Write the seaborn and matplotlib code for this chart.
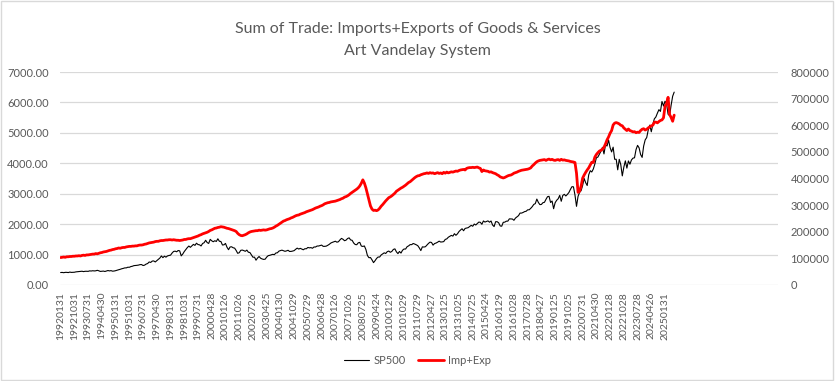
# -*- coding: utf-8 -*-

import matplotlib
matplotlib.use('Agg')
import matplotlib.pyplot as plt
import matplotlib.ticker as mticker
from matplotlib.patches import Rectangle
import seaborn as sns
import numpy as np
import pandas as pd

################################################################################
# data: monthly values from 1992-01 to 2025-07

# S&P 500 month-end close
sp500 = [
    409, 413, 404, 415, 415, 408, 424, 414, 418, 419, 431, 436,          # 1992
    439, 443, 452, 440, 450, 451, 448, 464, 459, 468, 462, 466,          # 1993
    482, 467, 446, 451, 457, 444, 458, 475, 463, 472, 454, 459,          # 1994
    470, 487, 501, 515, 533, 545, 562, 562, 584, 582, 605, 616,          # 1995
    636, 640, 646, 654, 669, 671, 640, 652, 687, 705, 757, 741,          # 1996
    786, 791, 757, 801, 848, 885, 954, 899, 947, 915, 955, 970,          # 1997
    980, 1049, 1102, 1112, 1091, 1134, 1121, 957, 1017, 1099, 1164, 1229,  # 1998
    1280, 1238, 1286, 1335, 1302, 1373, 1329, 1320, 1283, 1363, 1389, 1469,  # 1999
    1394, 1366, 1499, 1452, 1421, 1455, 1431, 1518, 1437, 1429, 1315, 1320,  # 2000
    1366, 1240, 1160, 1249, 1256, 1224, 1211, 1134, 1041, 1060, 1139, 1148,  # 2001
    1130, 1107, 1147, 1077, 1067, 990, 912, 916, 815, 886, 936, 880,     # 2002
    856, 841, 848, 917, 964, 975, 990, 1008, 996, 1051, 1058, 1112,      # 2003
    1131, 1145, 1126, 1107, 1121, 1141, 1102, 1104, 1115, 1130, 1174, 1212,  # 2004
    1181, 1204, 1181, 1157, 1192, 1191, 1234, 1220, 1229, 1207, 1249, 1248,  # 2005
    1280, 1281, 1295, 1311, 1270, 1270, 1277, 1304, 1336, 1378, 1401, 1418,  # 2006
    1438, 1407, 1421, 1482, 1531, 1503, 1455, 1474, 1527, 1549, 1481, 1468,  # 2007
    1379, 1331, 1323, 1386, 1400, 1280, 1267, 1283, 1166, 969, 896, 903,     # 2008
    826, 735, 798, 873, 919, 919, 987, 1021, 1057, 1036, 1096, 1115,     # 2009
    1074, 1104, 1169, 1187, 1089, 1031, 1102, 1049, 1141, 1183, 1181, 1258,  # 2010
    1286, 1327, 1326, 1364, 1345, 1321, 1292, 1219, 1131, 1253, 1247, 1258,  # 2011
    1312, 1366, 1408, 1398, 1310, 1362, 1379, 1407, 1441, 1412, 1416, 1426,  # 2012
    1498, 1515, 1569, 1598, 1631, 1606, 1686, 1633, 1682, 1757, 1806, 1848,  # 2013
    1783, 1859, 1872, 1884, 1924, 1960, 1931, 2003, 1972, 2018, 2068, 2059,  # 2014
    1995, 2105, 2068, 2086, 2107, 2063, 2104, 1972, 1920, 2079, 2080, 2044,  # 2015
    1940, 1932, 2060, 2065, 2097, 2099, 2174, 2171, 2168, 2126, 2199, 2239,  # 2016
    2279, 2364, 2363, 2384, 2412, 2423, 2470, 2472, 2519, 2575, 2648, 2674,  # 2017
    2824, 2714, 2641, 2648, 2705, 2718, 2816, 2902, 2914, 2712, 2760, 2507,  # 2018
    2704, 2784, 2834, 2946, 2752, 2942, 2980, 2926, 2977, 3038, 3141, 3231,  # 2019
    3226, 2954, 2585, 2912, 3044, 3100, 3271, 3500, 3363, 3270, 3622, 3756,  # 2020
    3714, 3811, 3973, 4181, 4204, 4298, 4395, 4523, 4308, 4605, 4567, 4766,  # 2021
    4516, 4374, 4530, 4132, 4132, 3785, 4130, 3955, 3586, 3872, 4080, 3840,  # 2022
    4077, 3970, 4109, 4169, 4180, 4450, 4589, 4508, 4288, 4194, 4568, 4770,  # 2023
    4846, 5096, 5254, 5036, 5278, 5460, 5522, 5648, 5762, 5705, 6032, 5882,  # 2024
    6041, 5955, 5612, 5569, 5912, 6205, 6339,                                # 2025
]

# imports + exports of goods & services (millions)
imp_exp = [
    103000, 104000, 105000, 104000, 106000, 106000, 107000, 107000, 108000, 108000, 109000, 109000,  # 1992
    110000, 109000, 111000, 112000, 111000, 113000, 113000, 114000, 115000, 116000, 116000, 118000,  # 1993
    117000, 119000, 121000, 122000, 124000, 125000, 126000, 128000, 130000, 131000, 133000, 134000,  # 1994
    136000, 137000, 139000, 138000, 140000, 141000, 141000, 143000, 144000, 145000, 145000, 146000,  # 1995
    146000, 147000, 147000, 149000, 150000, 150000, 151000, 153000, 154000, 156000, 158000, 159000,  # 1996
    160000, 161000, 163000, 164000, 164000, 166000, 167000, 167000, 168000, 169000, 169000, 170000,  # 1997
    170000, 169000, 170000, 169000, 168000, 168000, 167000, 168000, 169000, 171000, 171000, 173000,  # 1998
    174000, 174000, 176000, 178000, 180000, 182000, 184000, 187000, 189000, 192000, 194000, 196000,  # 1999
    198000, 201000, 205000, 207000, 210000, 213000, 214000, 216000, 217000, 219000, 218000, 217000,  # 2000
    215000, 213000, 212000, 210000, 208000, 206000, 204000, 201000, 194000, 189000, 186000, 185000,  # 2001
    187000, 189000, 192000, 196000, 199000, 201000, 202000, 203000, 204000, 204000, 206000, 205000,  # 2002
    206000, 207000, 206000, 207000, 209000, 211000, 212000, 214000, 217000, 221000, 224000, 228000,  # 2003
    232000, 236000, 240000, 242000, 245000, 247000, 249000, 252000, 254000, 257000, 260000, 262000,  # 2004
    263000, 266000, 268000, 270000, 272000, 275000, 277000, 279000, 281000, 283000, 286000, 289000,  # 2005
    291000, 293000, 296000, 298000, 301000, 305000, 307000, 309000, 310000, 312000, 313000, 314000,  # 2006
    315000, 317000, 319000, 321000, 324000, 326000, 330000, 332000, 335000, 339000, 344000, 348000,  # 2007
    352000, 356000, 360000, 365000, 372000, 382000, 395000, 383000, 365000, 342000, 318000, 297000,  # 2008
    285000, 280000, 281000, 279000, 282000, 288000, 296000, 302000, 309000, 316000, 322000, 328000,  # 2009
    331000, 335000, 340000, 345000, 352000, 356000, 360000, 364000, 367000, 371000, 375000, 380000,  # 2010
    385000, 388000, 393000, 398000, 403000, 407000, 410000, 411000, 414000, 416000, 418000, 419000,  # 2011
    421000, 419000, 422000, 420000, 421000, 418000, 420000, 422000, 419000, 421000, 418000, 423000,  # 2012
    420000, 424000, 421000, 423000, 425000, 424000, 426000, 428000, 427000, 430000, 432000, 433000,  # 2013
    434000, 432000, 438000, 440000, 441000, 441000, 442000, 441000, 442000, 443000, 440000, 438000,  # 2014
    426000, 432000, 429000, 428000, 427000, 424000, 425000, 422000, 420000, 418000, 414000, 411000,  # 2015
    406000, 404000, 402000, 404000, 407000, 410000, 412000, 413000, 416000, 420000, 422000, 424000,  # 2016
    427000, 429000, 431000, 432000, 433000, 434000, 435000, 437000, 440000, 447000, 452000, 458000,  # 2017
    463000, 466000, 468000, 469000, 470000, 471000, 468000, 471000, 473000, 470000, 472000, 469000,  # 2018
    468000, 470000, 471000, 468000, 472000, 469000, 470000, 468000, 467000, 466000, 464000, 463000,  # 2019
    462000, 460000, 420000, 348000, 352000, 371000, 401000, 413000, 423000, 432000, 440000, 451000,  # 2020
    461000, 460000, 480000, 490000, 497000, 503000, 506000, 510000, 517000, 530000, 545000, 556000,  # 2021
    570000, 580000, 601000, 608000, 610000, 608000, 605000, 600000, 598000, 590000, 585000, 580000,  # 2022
    586000, 580000, 578000, 575000, 576000, 572000, 574000, 573000, 580000, 585000, 587000, 582000,  # 2023
    585000, 590000, 594000, 598000, 600000, 611000, 612000, 609000, 614000, 618000, 620000, 628000,  # 2024
    671000, 680000, 705000, 640000, 629000, 615000, 638000,                                          # 2025
]

# category labels shown on the x axis (every 9th month)
tick_labels = [
    '19920131', '19921031', '19930731', '19940430', '19950131', '19951031',
    '19960731', '19970430', '19980131', '19981031', '19990731', '20000428',
    '20010126', '20011026', '20020726', '20030425', '20040130', '20041029',
    '20050729', '20060428', '20070126', '20071026', '20080725', '20090424',
    '20100129', '20101029', '20110729', '20120427', '20130125', '20131025',
    '20140725', '20150424', '20160129', '20161028', '20170728', '20180427',
    '20190125', '20191025', '20200731', '20210430', '20220128', '20221028',
    '20230728', '20240426', '20250131',
]

title = 'Sum of Trade: Imports+Exports of Goods & Services\nArt Vandelay System'

################################################################################

df = pd.DataFrame({'i': np.arange(len(sp500)), 'SP500': sp500, 'Imp+Exp': imp_exp})

sns.set_theme(style='white')
plt.rcParams['font.family'] = ['Lato', 'DejaVu Sans']
grey = '#595959'

fig = plt.figure(figsize=(8.35, 3.81), dpi=100)
ax = fig.add_axes([0.0719, 0.252, 0.8598, 0.559])
ax2 = ax.twinx()

sns.lineplot(x='i', y='SP500', data=df, ax=ax, color='black', linewidth=0.8, label='SP500', legend=False)
sns.lineplot(x='i', y='Imp+Exp', data=df, ax=ax2, color='#ff0000', linewidth=2.0, label='Imp+Exp', legend=False)

ax.set_xlim(-0.4, 470)
ax.set_ylim(0, 7000)
ax2.set_ylim(0, 800000)
ax.set_yticks(np.arange(0, 7001, 1000))
ax2.set_yticks(np.arange(0, 800001, 100000))
ax.yaxis.set_major_formatter(mticker.FormatStrFormatter('%.2f'))
ax2.yaxis.set_major_formatter(mticker.FormatStrFormatter('%d'))

x_locs = np.arange(len(tick_labels)) * 9
ax.set_xticks(x_locs)
ax.set_xticklabels(tick_labels, rotation=90)

ax.grid(axis='y', color='#d9d9d9', linewidth=0.9)
ax.grid(axis='x', visible=False)
ax2.grid(False)
for a in (ax, ax2):
    for s in a.spines.values():
        s.set_visible(False)
    a.set_xlabel('')
    a.set_ylabel('')
ax.tick_params(axis='y', length=0, pad=8, labelsize=8, labelcolor=grey)
ax.tick_params(axis='x', length=0, pad=5, labelsize=7.5, labelcolor=grey)
ax2.tick_params(axis='y', length=0, pad=9, labelsize=8, labelcolor=grey)

fig.text(0.5, 0.895, title, ha='center', va='center', fontsize=11.5, color=grey, linespacing=1.65)

h1, l1 = ax.get_legend_handles_labels()
h2, l2 = ax2.get_legend_handles_labels()
fig.legend(h1 + h2, l1 + l2, loc='center', bbox_to_anchor=(0.5, 0.053), ncol=2, frameon=False,
           fontsize=8, labelcolor=grey, handlelength=2.3, handletextpad=0.4, columnspacing=1.1)

fig.patches.append(Rectangle((0.001, 0.002), 0.997, 0.995, transform=fig.transFigure,
                             fill=False, edgecolor='#d9d9d9', linewidth=1.0))

fig.savefig('out.png', dpi=100)
